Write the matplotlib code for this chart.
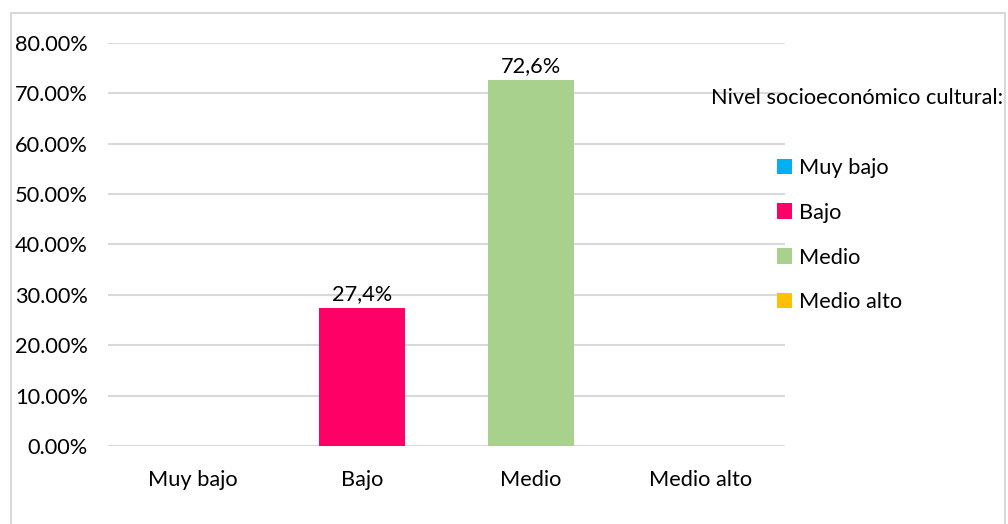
import matplotlib
matplotlib.use("Agg")
import matplotlib.pyplot as plt
from matplotlib.patches import Rectangle, Patch

categories = ["Muy bajo", "Bajo", "Medio", "Medio alto"]
values = [0.0, 27.4, 72.6, 0.0]
colors = ["#00B0F0", "#FF0066", "#A9D18E", "#FFC000"]
yticks = [0, 10, 20, 30, 40, 50, 60, 70, 80]
legend_title = "Nivel socioeconómico cultural:"

plt.rcParams["font.family"] = ["Lato", "DejaVu Sans"]
FS = 15.7

W, H = 1008, 524
fig = plt.figure(figsize=(W / 100, H / 100), dpi=100)

# outer chart border (right/bottom edges run off the canvas)
fig.patches.append(Rectangle((11 / W, -0.05), (1005 - 11) / W, 1.05 - 13 / H,
                             transform=fig.transFigure, fill=False,
                             edgecolor="#d9d9d9", linewidth=1.5))

ax = fig.add_axes([108 / W, 1 - 446 / H, (785 - 108) / W, (446 - 43) / H])
x = list(range(len(categories)))
bars = ax.bar(x, values, width=0.51, color=colors, zorder=3)

ax.set_xlim(-0.5, len(categories) - 0.5)
ax.set_ylim(0, 80)
ax.set_yticks(yticks)
ax.set_yticklabels([f"{t:.2f}%" for t in yticks])
ax.set_xticks(x)
ax.set_xticklabels(categories)
ax.tick_params(axis="both", length=0, labelsize=FS, colors="#000000")
ax.tick_params(axis="y", pad=14.5)
ax.tick_params(axis="x", pad=17)
ax.grid(axis="y", color="#d9d9d9", linewidth=1.5, zorder=0)
for s in ax.spines.values():
    s.set_visible(False)

for xi, v in zip(x, values):
    if v > 0:
        ax.annotate(f"{v:.1f}".replace(".", ",") + "%", (xi, v),
                    xytext=(0, 3), textcoords="offset points",
                    ha="center", va="bottom", fontsize=FS)

handles = [Patch(facecolor=c, edgecolor="none") for c in colors]
fig.text(1003 / W, 1 - 98 / H, legend_title, ha="right", va="center", fontsize=FS)
fig.legend(handles, categories, loc="upper left",
           bbox_to_anchor=(766 / W, 1 - 147 / H), frameon=False,
           fontsize=FS, handlelength=0.7, handleheight=0.7,
           handletextpad=0.3, labelspacing=1.14, borderpad=0)

fig.savefig("out.png", dpi=100, facecolor="white")
